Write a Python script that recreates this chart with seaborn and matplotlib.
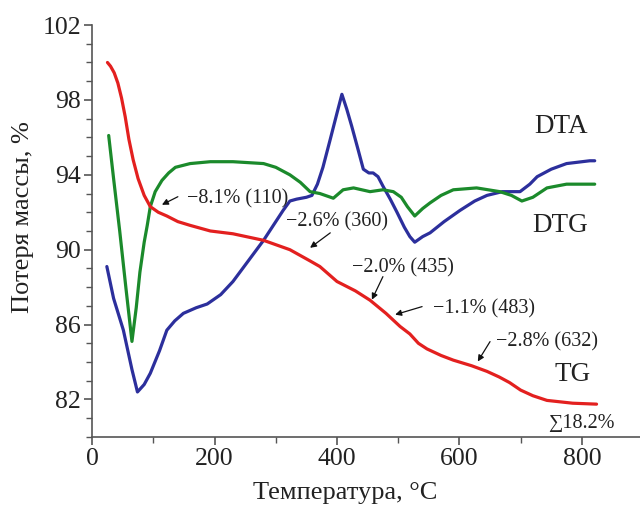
import matplotlib
matplotlib.use("Agg")
import matplotlib.pyplot as plt
import seaborn as sns
from matplotlib.ticker import MultipleLocator

# TG curve (red)
tg_temp = [25, 30, 36, 42, 48, 54, 60, 67, 75, 85, 95, 108, 122, 140, 160, 193, 230,
           280, 323, 356, 372, 400, 430, 454, 480, 503, 519, 533, 547, 570, 590, 620,
           645, 665, 682, 700, 720, 743, 785, 824]
tg_mass = [100.0, 99.8, 99.45, 98.9, 98.1, 97.1, 95.9, 94.8, 93.8, 92.9, 92.3, 92.0,
           91.8, 91.5, 91.3, 91.0, 90.85, 90.5, 90.0, 89.4, 89.1, 88.3, 87.8, 87.3,
           86.6, 85.9, 85.5, 85.0, 84.7, 84.35, 84.1, 83.8, 83.5, 83.2, 82.9, 82.5,
           82.2, 81.95, 81.8, 81.75]

# DTG curve (green)
dtg_temp = [27, 35, 45, 55, 65, 72, 78, 85, 90, 95, 103, 114, 125, 136, 160, 193,
            230, 280, 300, 323, 340, 356, 372, 394, 410, 427, 454, 475, 492, 505,
            515, 527, 540, 552, 570, 590, 628, 666, 685, 702, 720, 743, 775, 821]
dtg_val = [96.1, 93.8, 91.0, 88.0, 85.1, 86.9, 88.8, 90.4, 91.3, 92.3, 93.1, 93.7,
           94.1, 94.4, 94.6, 94.7, 94.7, 94.6, 94.4, 94.0, 93.6, 93.1, 93.0, 92.75,
           93.2, 93.3, 93.1, 93.2, 93.1, 92.8, 92.3, 91.8, 92.2, 92.5, 92.9, 93.2,
           93.3, 93.1, 92.9, 92.6, 92.8, 93.3, 93.5, 93.5]

# DTA curve (blue)
dta_temp = [24, 35, 51, 65, 74, 85, 95, 110, 122, 135, 149, 170, 188, 210, 230, 255,
            280, 300, 312, 323, 334, 350, 359, 368, 377, 389, 400, 408, 416, 424,
            434, 443, 452, 459, 467, 475, 487, 498, 510, 519, 527, 540, 552, 575,
            601, 625, 645, 670, 699, 715, 727, 750, 775, 813, 821]
dta_val = [89.1, 87.4, 85.7, 83.6, 82.4, 82.8, 83.4, 84.6, 85.7, 86.2, 86.6, 86.9,
           87.1, 87.6, 88.3, 89.4, 90.5, 91.5, 92.1, 92.6, 92.7, 92.8, 92.9, 93.5,
           94.4, 95.9, 97.3, 98.3, 97.5, 96.6, 95.4, 94.3, 94.1, 94.1, 93.9, 93.4,
           92.7, 92.0, 91.2, 90.7, 90.4, 90.7, 90.9, 91.5, 92.1, 92.6, 92.9, 93.1,
           93.1, 93.5, 93.9, 94.3, 94.6, 94.75, 94.75]

# mass-loss steps: label, text position (left edge), arrow tail, arrow head
step_labels = ["\u22128.1% (110)", "\u22122.6% (360)", "\u22122.0% (435)",
               "\u22121.1% (483)", "\u22122.8% (632)"]
step_text_pos = [(155, 92.72), (317, 91.49), (424, 89.04), (557, 86.85), (660, 85.09)]
step_arrow_tail = [(140, 92.83), (389, 90.9), (475, 88.56), (539, 86.96), (650, 85.09)]
step_arrow_head = [(114, 92.4), (356, 90.1), (457, 87.33), (495, 86.53), (630, 84.03)]

sns.set_theme(style="ticks")
plt.rcParams["font.family"] = ["Liberation Serif", "DejaVu Serif"]

fig = plt.figure(figsize=(6.4, 5.11), dpi=100)
ax = fig.add_axes([0.144, 0.145, 0.856, 0.806])

red = "#e3201f"
green = "#1b8a2b"
blue = "#2c2f9c"
line_kw = dict(lw=2.3, sort=False, estimator=None, ax=ax,
               solid_joinstyle="round", solid_capstyle="round")

sns.lineplot(x=dta_temp, y=dta_val, color=blue, **line_kw)
sns.lineplot(x=dtg_temp, y=dtg_val, color=green, **line_kw)
sns.lineplot(x=tg_temp, y=tg_mass, color=red, **line_kw)

ax.set_xlim(0, 895)
ax.set_ylim(80, 102)
ax.xaxis.set_major_locator(MultipleLocator(200))
ax.xaxis.set_minor_locator(MultipleLocator(100))
ax.yaxis.set_minor_locator(MultipleLocator(1))
ax.set_yticks([82, 86, 90, 94, 98, 102])

for s in ["top", "right"]:
    ax.spines[s].set_visible(False)
for s in ["left", "bottom"]:
    ax.spines[s].set_color("#555555")
    ax.spines[s].set_linewidth(1.2)

ax.tick_params(which="major", direction="out", length=6, width=1.2, color="#555555",
               labelsize=18.5, labelcolor="#222222", pad=2)
ax.tick_params(which="minor", direction="out", length=4, width=1.0, color="#555555")

ax.set_xlabel("Температура, °C", fontsize=19, color="#222222")
ax.set_ylabel("Потеря массы, %", fontsize=19, color="#222222")
ax.xaxis.set_label_coords(0.462, -0.11)
ax.yaxis.set_label_coords(-0.106, 0.534)

for lab, tp, tail, head in zip(step_labels, step_text_pos, step_arrow_tail, step_arrow_head):
    ax.text(tp[0], tp[1], lab, fontsize=14.5, color="#222222", ha="left", va="center")
    ax.annotate("", xy=head, xytext=tail,
                arrowprops=dict(arrowstyle="-|>", color="#111111", lw=0.9,
                                mutation_scale=9, shrinkA=0, shrinkB=0))

ax.text(766, 96.56, "DTA", fontsize=19.5, color="#222222", ha="center", va="center")
ax.text(764, 91.28, "DTG", fontsize=19.5, color="#222222", ha="center", va="center")
ax.text(785, 83.33, "TG", fontsize=19.5, color="#222222", ha="center", va="center")
ax.text(800, 80.72, "\u221118.2%", fontsize=14.5, color="#222222", ha="center", va="center")

fig.savefig("out.png", dpi=100)
